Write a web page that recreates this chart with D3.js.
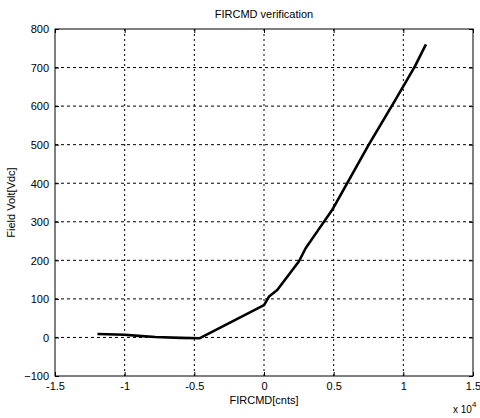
<!DOCTYPE html>
<html><head><meta charset="utf-8">
<script src="https://cdn.jsdelivr.net/npm/d3@7"></script>
<style>body{margin:0;background:#fff;} text{font-family:"Liberation Sans",Arial,sans-serif;fill:#000;}</style>
</head><body>
<svg id="c" width="480" height="418"></svg>
<script>
const xVals = [-11950, -10000, -9000, -7800, -6000, -4600, 0, 360, 950, 2500, 3000, 3900, 4900, 7500, 9440, 10830, 11620];
const yVals = [9, 7, 4, 1, -1, -2, 84, 106, 123, 197, 232, 279, 331, 499, 617, 703, 760];
const xTicks = [-15000, -10000, -5000, 0, 5000, 10000, 15000];
const xTickLabels = ["-1.5", "-1", "-0.5", "0", "0.5", "1", "1.5"];
const yTicks = [-100, 0, 100, 200, 300, 400, 500, 600, 700, 800];

const svg = d3.select("#c");
const L = 55, R = 473, T = 29, B = 376;
const x = d3.scaleLinear().domain([-15000, 15000]).range([L, R]);
const y = d3.scaleLinear().domain([-100, 800]).range([B, T]);

svg.append("rect").attr("width",480).attr("height",418).attr("fill","#fff");

// grid
const g = svg.append("g");
g.selectAll(".gx").data(xTicks.slice(1,-1)).enter().append("line")
  .attr("x1", d=>x(d)).attr("x2", d=>x(d)).attr("y1", T).attr("y2", B)
  .attr("stroke","#000").attr("stroke-width",1).attr("stroke-dasharray","2,3");
g.selectAll(".gy").data(yTicks.slice(1,-1)).enter().append("line")
  .attr("y1", d=>y(d)).attr("y2", d=>y(d)).attr("x1", L).attr("x2", R)
  .attr("stroke","#000").attr("stroke-width",1).attr("stroke-dasharray","3,3");

// axes
const xAxis = d3.axisBottom(x).tickValues(xTicks).tickFormat((d,i)=>xTickLabels[i]).tickSizeInner(-4).tickSizeOuter(0).tickPadding(6);
const yAxis = d3.axisLeft(y).tickValues(yTicks).tickFormat(d3.format("d")).tickSizeInner(-4).tickSizeOuter(0).tickPadding(6);
const ax = svg.append("g").attr("transform",`translate(0,${B})`).call(xAxis);
const ay = svg.append("g").attr("transform",`translate(${L},0)`).call(yAxis);
[ax, ay].forEach(a=>{a.select(".domain").remove(); a.selectAll("text").attr("font-size",11).attr("font-family","Liberation Sans, Arial, sans-serif"); a.selectAll("line").attr("stroke","#000");});
ay.selectAll("text").attr("dy","0.35em");
const axT = svg.append("g").attr("transform",`translate(0,${T})`).call(d3.axisTop(x).tickValues(xTicks).tickFormat("").tickSizeInner(-4).tickSizeOuter(0));
const ayR = svg.append("g").attr("transform",`translate(${R},0)`).call(d3.axisRight(y).tickValues(yTicks).tickFormat("").tickSizeInner(-4).tickSizeOuter(0));
[axT, ayR].forEach(a=>a.select(".domain").remove());

// frame
svg.append("rect").attr("x",L).attr("y",T).attr("width",R-L).attr("height",B-T)
  .attr("fill","none").attr("stroke","#000").attr("stroke-width",1);

// data line
const pts = xVals.map((v,i)=>[v, yVals[i]]);
svg.append("path").datum(pts)
  .attr("d", d3.line().x(d=>x(d[0])).y(d=>y(d[1])).curve(d3.curveLinear))
  .attr("fill","none").attr("stroke","#000").attr("stroke-width",2.6).attr("stroke-linejoin","round");

// labels
svg.append("text").attr("x", (L+R)/2).attr("y", 18).attr("text-anchor","middle").attr("font-size",11).text("FIRCMD verification");
svg.append("text").attr("x", (L+R)/2).attr("y", 404).attr("text-anchor","middle").attr("font-size",11).text("FIRCMD[cnts]");
svg.append("text").attr("transform",`translate(15,${(T+B)/2}) rotate(-90)`).attr("text-anchor","middle").attr("font-size",11).text("Field Volt[Vdc]");
const e = svg.append("text").attr("x", 453).attr("y", 413).attr("font-size",10);
e.append("tspan").text("x 10");
e.append("tspan").attr("dy",-6).attr("font-size",8).text("4");
</script>
</body></html>
